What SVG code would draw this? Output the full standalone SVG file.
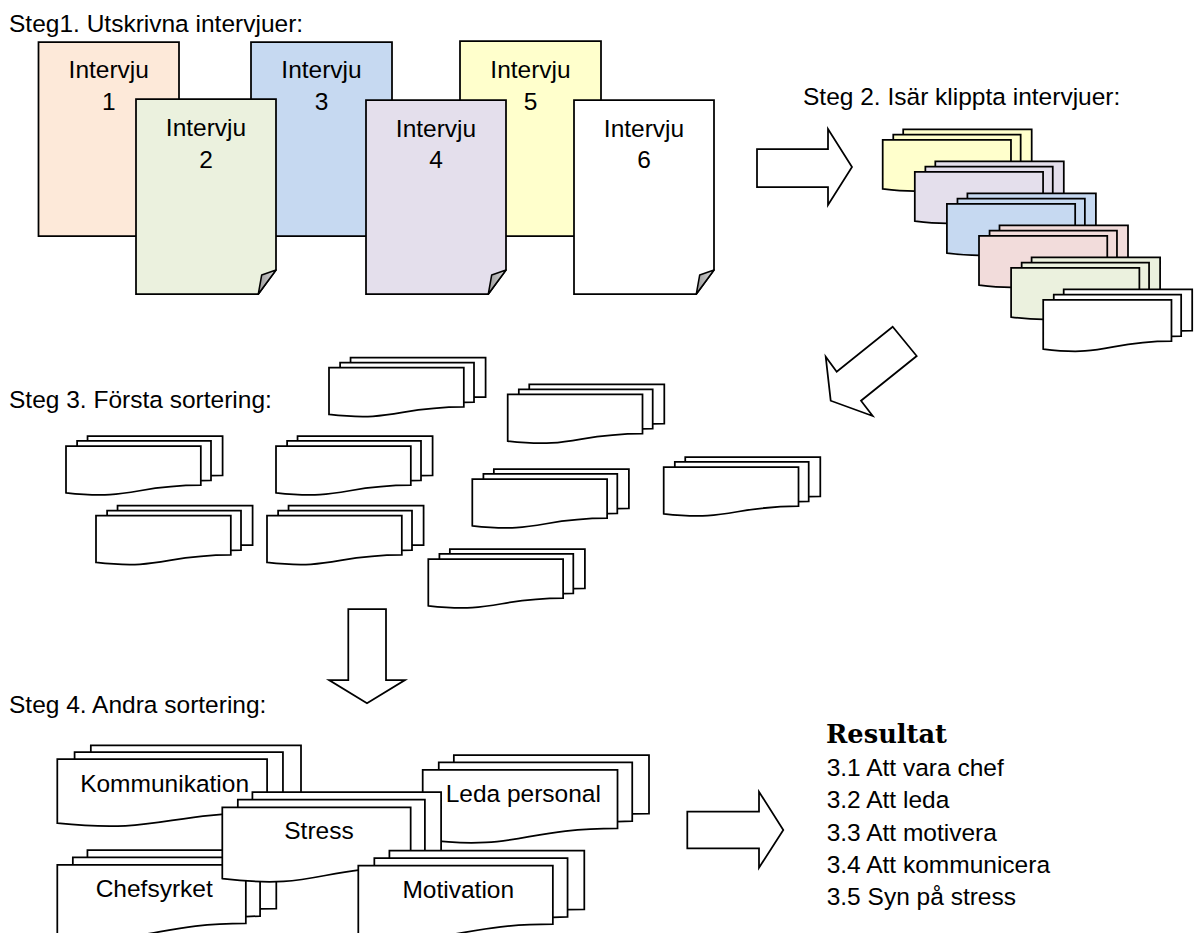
<svg xmlns="http://www.w3.org/2000/svg" xmlns:xlink="http://www.w3.org/1999/xlink" width="1194" height="933" viewBox="0 0 1194 933">
<style>
  .lbl { font-family: "Liberation Sans", Arial, sans-serif; font-size: 24.5px; fill: #000; }
  .mid { text-anchor: middle; }
  .pg { stroke: #000; stroke-width: 1.75; stroke-linejoin: miter; }
  .fold { fill: url(#foldg); stroke: #000; stroke-width: 1.5; stroke-linejoin: round; }
  .md { stroke: #000; stroke-width: 1.75; stroke-linejoin: miter; }
  .arrow { fill: #fff; stroke: #000; stroke-width: 1.75; stroke-linejoin: miter; }
  .res { font-family: "DejaVu Serif", "Liberation Serif", serif; font-weight: bold; font-size: 25.7px; fill: #000; }
</style>
<defs>
  <linearGradient id="foldg" x1="0" y1="0" x2="1" y2="0">
    <stop offset="0" stop-color="#9a9a9a"/>
    <stop offset="1" stop-color="#d9d9d9"/>
  </linearGradient>
  <path id="md" vector-effect="non-scaling-stroke" d="M0,0.96213 C0.43046,1.08991 0.43046,0.83435 0.86088,0.83435 L0.86088,0.17014 L0,0.17014 Z M0.07093,0.17014 L0.07093,0.08403 L0.92593,0.08403 L0.92593,0.75241 C0.89343,0.75241 0.86088,0.75704 0.86088,0.75704 L0.86088,0.17014 Z M0.13759,0.08403 L0.13759,0 L1,0 L1,0.6663 C0.96296,0.6663 0.92593,0.66977 0.92593,0.66977 L0.92593,0.08403 Z"/>
</defs>
<rect width="1194" height="933" fill="#fff"/>

<!-- headings -->
<g id="headings">
  <text class="lbl" x="9" y="32">Steg1. Utskrivna intervjuer:</text>
  <text class="lbl" x="803" y="105">Steg 2. Isär klippta intervjuer:</text>
  <text class="lbl" x="9" y="408">Steg 3. Första sortering:</text>
  <text class="lbl" x="9" y="713">Steg 4. Andra sortering:</text>
</g>

<!-- Step 1 pages -->
<g id="intervju1">
  <path class="pg" fill="#FDE9D9" d="M38.5,42 H179 V212 L161.3,236 H38.5 Z"/>
  <path class="fold" d="M161.3,236 L164.7,217 L179,212 Z"/>
  <text class="lbl mid" x="108.75" y="78">Intervju</text>
  <text class="lbl mid" x="108.75" y="110">1</text>
</g>
<g id="intervju3">
  <path class="pg" fill="#C6D9F1" d="M251,42 H392 V212 L374.3,236 H251 Z"/>
  <path class="fold" d="M374.3,236 L377.7,217 L392,212 Z"/>
  <text class="lbl mid" x="321.5" y="78">Intervju</text>
  <text class="lbl mid" x="321.5" y="110">3</text>
</g>
<g id="intervju2">
  <path class="pg" fill="#EBF1DE" d="M136,99 H276 V270 L258.3,294 H136 Z"/>
  <path class="fold" d="M258.3,294 L261.7,275 L276,270 Z"/>
  <text class="lbl mid" x="206" y="136">Intervju</text>
  <text class="lbl mid" x="206" y="168">2</text>
</g>
<g id="intervju5">
  <path class="pg" fill="#FFFFCC" d="M460,41 H601 V212 L583.3,236 H460 Z"/>
  <path class="fold" d="M583.3,236 L586.7,217 L601,212 Z"/>
  <text class="lbl mid" x="530.5" y="77.5">Intervju</text>
  <text class="lbl mid" x="530.5" y="109.5">5</text>
</g>
<g id="intervju4">
  <path class="pg" fill="#E4DFEC" d="M366,100 H506 V270 L488.3,294 H366 Z"/>
  <path class="fold" d="M488.3,294 L491.7,275 L506,270 Z"/>
  <text class="lbl mid" x="436" y="136.5">Intervju</text>
  <text class="lbl mid" x="436" y="168">4</text>
</g>
<g id="intervju6">
  <path class="pg" fill="#FFFFFF" d="M574,100 H714 V270 L696.3,294 H574 Z"/>
  <path class="fold" d="M696.3,294 L699.7,275 L714,270 Z"/>
  <text class="lbl mid" x="644" y="136.5">Intervju</text>
  <text class="lbl mid" x="644" y="168">6</text>
</g>

<!-- Step 2 cut pieces -->
<g id="klipp">
  <use href="#md" class="md" fill="#FFFFCC" transform="translate(882.7,129.3) scale(149,62)"/>
  <use href="#md" class="md" fill="#E4DFEC" transform="translate(914.8,161.4) scale(149,62)"/>
  <use href="#md" class="md" fill="#C6D9F1" transform="translate(946.9,193.4) scale(149,62)"/>
  <use href="#md" class="md" fill="#F2DCDB" transform="translate(979,225.4) scale(149,62)"/>
  <use href="#md" class="md" fill="#EBF1DE" transform="translate(1011.1,257.4) scale(149,62)"/>
  <use href="#md" class="md" fill="#FFFFFF" transform="translate(1043.2,289.4) scale(149,62)"/>
</g>

<!-- Step 3 piles -->
<g id="sort1">
  <use href="#md" class="md" fill="#fff" transform="translate(329,357.7) scale(156.6,59)"/>
  <use href="#md" class="md" fill="#fff" transform="translate(507.7,384.3) scale(156.6,59)"/>
  <use href="#md" class="md" fill="#fff" transform="translate(66,436) scale(156.6,59)"/>
  <use href="#md" class="md" fill="#fff" transform="translate(276,436) scale(156.6,59)"/>
  <use href="#md" class="md" fill="#fff" transform="translate(663.7,457) scale(156.6,59)"/>
  <use href="#md" class="md" fill="#fff" transform="translate(472.3,469) scale(156.6,59)"/>
  <use href="#md" class="md" fill="#fff" transform="translate(96,505.7) scale(156.6,59)"/>
  <use href="#md" class="md" fill="#fff" transform="translate(267,505.7) scale(156.6,59)"/>
  <use href="#md" class="md" fill="#fff" transform="translate(428.3,549) scale(156.6,59)"/>
</g>

<!-- Step 4 piles -->
<g id="kommunikation">
  <use href="#md" class="md" fill="#fff" transform="translate(57.3,745.3) scale(243.7,81)"/>
  <text class="lbl mid" x="164.6" y="791.7">Kommunikation</text>
</g>
<g id="leda-personal">
  <use href="#md" class="md" fill="#fff" transform="translate(422.7,755) scale(226.3,88)"/>
  <text class="lbl mid" x="523.3" y="801.7">Leda personal</text>
</g>
<g id="chefsyrket">
  <use href="#md" class="md" fill="#fff" transform="translate(57.3,850) scale(219,88)"/>
  <text class="lbl mid" x="154.2" y="896.7">Chefsyrket</text>
</g>
<g id="stress">
  <use href="#md" class="md" fill="#fff" transform="translate(222.3,792) scale(218.8,90)"/>
  <text class="lbl mid" x="319" y="839.3">Stress</text>
</g>
<g id="motivation">
  <use href="#md" class="md" fill="#fff" transform="translate(358.3,850.7) scale(226,88)"/>
  <text class="lbl mid" x="458.3" y="898.3">Motivation</text>
</g>

<!-- Result -->
<g id="resultat">
  <text class="res" x="826" y="743.3">Resultat</text>
  <text class="lbl" x="826.7" y="776">3.1 Att vara chef</text>
  <text class="lbl" x="826.7" y="808.3">3.2 Att leda</text>
  <text class="lbl" x="826.7" y="840.6">3.3 Att motivera</text>
  <text class="lbl" x="826.7" y="872.9">3.4 Att kommunicera</text>
  <text class="lbl" x="826.7" y="905.2">3.5 Syn på stress</text>
</g>

<!-- Connectors (block arrows) -->
<g id="connectors">
  <polygon class="arrow" points="757,149 828,149 828,129 852,167 828,205 828,187 757,187"/>
  <polygon class="arrow" points="892.7,326.7 916.7,356 861,400.7 872.7,416 830.7,400.7 825.7,356.7 836.7,371.7"/>
  <polygon class="arrow" points="348.3,609 386,609 386,680 405,680 367,703.3 329,680 348.3,680"/>
  <polygon class="arrow" points="687.3,811.7 759,811.7 759,791.7 783.3,830 759,867.7 759,848.3 687.3,848.3"/>
</g>
</svg>
